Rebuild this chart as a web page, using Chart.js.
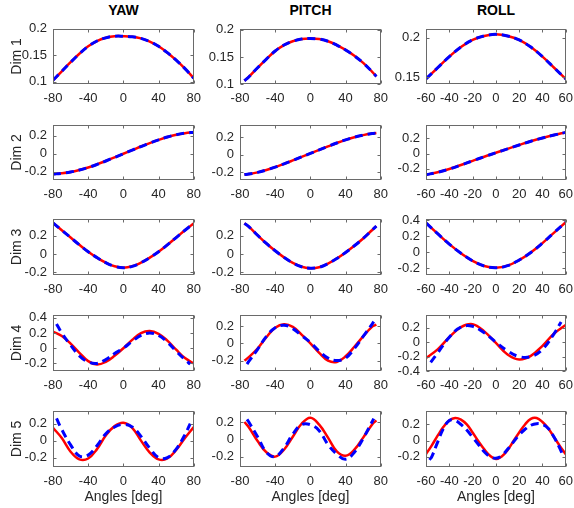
<!DOCTYPE html>
<html><head><meta charset="utf-8">
<script src="https://cdn.jsdelivr.net/npm/chart.js@4"></script>
<style>
html,body{margin:0;padding:0;background:#fff;overflow:hidden;}
#wrap{position:relative;width:574px;height:508px;}
canvas{position:absolute;}
.ttl{position:absolute;top:3px;font:bold 14px "Liberation Sans",Arial,sans-serif;line-height:15px;color:#000;transform:translateX(-50%);white-space:nowrap;}
</style></head><body>
<div id="wrap"></div>
<script>
// ---------- labels ----------
const colNames = ['YAW', 'PITCH', 'ROLL'];
const dimNames = ['Dim 1', 'Dim 2', 'Dim 3', 'Dim 4', 'Dim 5'];
const xLabel = 'Angles [deg]';

// ---------- x sample angles ----------
const xYaw = [-80,-70,-60,-50,-40,-30,-20,-10,0,10,20,30,40,50,60,70,80];
const xYawBlue = [-76,-70,-60,-50,-40,-30,-20,-10,0,10,20,30,40,50,60,70,76];
const xPitch = [-75,-70,-60,-50,-40,-30,-20,-10,0,10,20,30,40,50,60,70,75];
const xPitchBlue = [-72,-70,-60,-50,-40,-30,-20,-10,0,10,20,30,40,50,60,70,72];
const xRoll = [-60,-50,-40,-30,-20,-10,0,10,20,30,40,50,60];
const xRollBlue4 = [-56,-50,-40,-30,-20,-10,0,10,20,30,40,50,56];
const xRoll5 = [-60,-55,-50,-45,-40,-35,-30,-25,-20,-15,-10,-5,0,5,10,15,20,25,30,35,40,45,50,55,60];
const xRollBlue5 = [-57,-55,-50,-45,-40,-35,-30,-25,-20,-15,-10,-5,0,5,10,15,20,25,30,35,40,45,50,55,57];

// ---------- tick labels ----------
const xTicksYP = [-80,-40,0,40,80];
const xTicksRoll = [-60,-40,-20,0,20,40,60];
const yTicks1YP = [0.1,0.15,0.2];
const yTicks1R = [0.15,0.2];
const yTicksStd = [-0.2,0,0.2];
const yTicks3R = [-0.2,0,0.2,0.4];
const yTicks4Y = [-0.2,0,0.2,0.4];
const yTicks4R = [-0.4,-0.2,0,0.2];

// ---------- y ranges ----------
const yLimYaw = [[0.096,0.2],[-0.29,0.32],[-0.23,0.385],[-0.3,0.44],[-0.31,0.35]];
const yLimPitch = [[0.1,0.202],[-0.29,0.34],[-0.23,0.385],[-0.32,0.33],[-0.32,0.33]];
const yLimRoll = [[0.1416,0.211],[-0.35,0.38],[-0.284,0.415],[-0.4,0.38],[-0.33,0.37]];

// ---------- series values (red = solid, blue = dashed) ----------
const yawDim1Red  = [0.103,0.12,0.137,0.153,0.167,0.177,0.183,0.186,0.186,0.185,0.182,0.176,0.167,0.155,0.141,0.125,0.107];
const yawDim1Blue = [0.103,0.12,0.137,0.153,0.167,0.177,0.183,0.186,0.186,0.185,0.182,0.176,0.167,0.155,0.141,0.125,0.107];
const pitchDim1Red  = [0.106,0.113,0.13,0.146,0.161,0.172,0.179,0.183,0.184,0.183,0.179,0.172,0.163,0.152,0.139,0.123,0.114];
const pitchDim1Blue = [0.106,0.113,0.13,0.146,0.161,0.172,0.179,0.183,0.184,0.183,0.179,0.172,0.163,0.152,0.139,0.123,0.114];
const rollDim1Red  = [0.148,0.162,0.176,0.188,0.197,0.202,0.204,0.202,0.197,0.188,0.176,0.162,0.148];
const rollDim1Blue = [0.148,0.162,0.176,0.188,0.197,0.202,0.204,0.202,0.197,0.188,0.176,0.162,0.148];

const yawDim2Red  = [-0.225,-0.216,-0.202,-0.18,-0.152,-0.118,-0.08,-0.04,0.0,0.04,0.08,0.118,0.153,0.185,0.21,0.227,0.237];
const yawDim2Blue = [-0.225,-0.216,-0.202,-0.18,-0.152,-0.118,-0.08,-0.04,0.0,0.04,0.08,0.118,0.153,0.185,0.21,0.227,0.237];
const pitchDim2Red  = [-0.228,-0.222,-0.203,-0.176,-0.143,-0.106,-0.067,-0.027,0.013,0.053,0.093,0.132,0.168,0.198,0.222,0.24,0.246];
const pitchDim2Blue = [-0.228,-0.222,-0.203,-0.176,-0.143,-0.106,-0.067,-0.027,0.013,0.053,0.093,0.132,0.168,0.198,0.222,0.24,0.246];
const rollDim2Red  = [-0.28,-0.248,-0.205,-0.152,-0.097,-0.042,0.01,0.062,0.113,0.162,0.206,0.245,0.28];
const rollDim2Blue = [-0.28,-0.248,-0.205,-0.152,-0.097,-0.042,0.01,0.062,0.113,0.162,0.206,0.245,0.28];

const yawDim3Red  = [0.34,0.26,0.18,0.1,0.025,-0.04,-0.095,-0.135,-0.15,-0.135,-0.095,-0.04,0.025,0.1,0.18,0.26,0.335];
const yawDim3Blue = [0.34,0.26,0.18,0.1,0.025,-0.04,-0.095,-0.135,-0.15,-0.135,-0.095,-0.04,0.025,0.1,0.18,0.26,0.335];
const pitchDim3Red  = [0.335,0.3,0.205,0.115,0.035,-0.037,-0.098,-0.14,-0.155,-0.145,-0.105,-0.05,0.017,0.09,0.17,0.26,0.305];
const pitchDim3Blue = [0.335,0.3,0.205,0.115,0.035,-0.037,-0.098,-0.14,-0.155,-0.145,-0.105,-0.05,0.017,0.09,0.17,0.26,0.305];
const rollDim3Red  = [0.364,0.23,0.1,-0.013,-0.108,-0.172,-0.193,-0.168,-0.098,-0.004,0.113,0.243,0.372];
const rollDim3Blue = [0.364,0.23,0.1,-0.013,-0.108,-0.172,-0.193,-0.168,-0.098,-0.004,0.113,0.243,0.372];

const yawDim4Red  = [0.22,0.16,0.06,-0.06,-0.17,-0.215,-0.18,-0.1,0.0,0.11,0.2,0.228,0.19,0.1,-0.02,-0.13,-0.2];
const yawDim4Blue = [0.32,0.2,0.04,-0.1,-0.18,-0.2,-0.15,-0.07,0.0,0.09,0.17,0.2,0.17,0.08,-0.04,-0.15,-0.21];
const pitchDim4Red  = [-0.2,-0.16,-0.06,0.07,0.18,0.22,0.19,0.1,0.0,-0.11,-0.2,-0.215,-0.15,-0.04,0.08,0.19,0.215];
const pitchDim4Blue = [-0.24,-0.21,-0.07,0.08,0.18,0.21,0.17,0.09,0.01,-0.09,-0.17,-0.2,-0.17,-0.06,0.08,0.22,0.25];
const rollDim4Red  = [-0.22,-0.1,0.07,0.21,0.25,0.15,-0.01,-0.17,-0.24,-0.19,-0.05,0.12,0.24];
const rollDim4Blue = [-0.28,-0.15,0.07,0.21,0.22,0.13,0.0,-0.12,-0.2,-0.2,-0.1,0.12,0.28];

const yawDim5Red  = [0.15,0.03,-0.13,-0.22,-0.21,-0.1,0.06,0.17,0.21,0.15,0.0,-0.14,-0.22,-0.21,-0.11,0.03,0.16];
const yawDim5Blue = [0.26,0.13,-0.05,-0.18,-0.17,-0.06,0.08,0.16,0.19,0.16,0.05,-0.09,-0.2,-0.2,-0.1,0.07,0.2];
const pitchDim5Red  = [0.2,0.14,-0.02,-0.15,-0.2,-0.12,0.03,0.18,0.25,0.17,0.02,-0.14,-0.19,-0.12,0.02,0.17,0.22];
const pitchDim5Blue = [0.23,0.2,0.03,-0.15,-0.2,-0.1,0.06,0.17,0.17,0.1,-0.06,-0.17,-0.23,-0.15,0.01,0.2,0.24];
const rollDim5Red  = [-0.17,-0.06,0.06,0.17,0.25,0.28,0.26,0.2,0.1,-0.01,-0.11,-0.19,-0.23,-0.2,-0.12,-0.01,0.1,0.2,0.27,0.28,0.23,0.15,0.04,-0.07,-0.17];
const rollDim5Blue = [-0.24,-0.2,-0.02,0.15,0.25,0.25,0.2,0.13,0.04,-0.05,-0.14,-0.2,-0.22,-0.19,-0.11,-0.02,0.07,0.14,0.19,0.21,0.2,0.15,0.04,-0.1,-0.17];

// ---------- layout ----------
const colLeft = [53, 240, 426], colRight = [194, 381, 566];
const rowTop = [21, 117, 211, 307, 403], rowBottom = [84, 180, 275, 371, 467];

const FONT = '"Liberation Sans", Arial, Helvetica, sans-serif';
const TXT = '#262626';

const panels = [
  [ {xr:xYaw,yr:yawDim1Red,xb:xYaw,yb:yawDim1Blue,lim:yLimYaw[0],yt:yTicks1YP,xt:xTicksYP,xmin:-80,xmax:80},
    {xr:xPitch,yr:pitchDim1Red,xb:xPitch,yb:pitchDim1Blue,lim:yLimPitch[0],yt:yTicks1YP,xt:xTicksYP,xmin:-80,xmax:80},
    {xr:xRoll,yr:rollDim1Red,xb:xRoll,yb:rollDim1Blue,lim:yLimRoll[0],yt:yTicks1R,xt:xTicksRoll,xmin:-60,xmax:60} ],
  [ {xr:xYaw,yr:yawDim2Red,xb:xYaw,yb:yawDim2Blue,lim:yLimYaw[1],yt:yTicksStd,xt:xTicksYP,xmin:-80,xmax:80},
    {xr:xPitch,yr:pitchDim2Red,xb:xPitch,yb:pitchDim2Blue,lim:yLimPitch[1],yt:yTicksStd,xt:xTicksYP,xmin:-80,xmax:80},
    {xr:xRoll,yr:rollDim2Red,xb:xRoll,yb:rollDim2Blue,lim:yLimRoll[1],yt:yTicksStd,xt:xTicksRoll,xmin:-60,xmax:60} ],
  [ {xr:xYaw,yr:yawDim3Red,xb:xYaw,yb:yawDim3Blue,lim:yLimYaw[2],yt:yTicksStd,xt:xTicksYP,xmin:-80,xmax:80},
    {xr:xPitch,yr:pitchDim3Red,xb:xPitch,yb:pitchDim3Blue,lim:yLimPitch[2],yt:yTicksStd,xt:xTicksYP,xmin:-80,xmax:80},
    {xr:xRoll,yr:rollDim3Red,xb:xRoll,yb:rollDim3Blue,lim:yLimRoll[2],yt:yTicks3R,xt:xTicksRoll,xmin:-60,xmax:60} ],
  [ {xr:xYaw,yr:yawDim4Red,xb:xYawBlue,yb:yawDim4Blue,lim:yLimYaw[3],yt:yTicks4Y,xt:xTicksYP,xmin:-80,xmax:80},
    {xr:xPitch,yr:pitchDim4Red,xb:xPitchBlue,yb:pitchDim4Blue,lim:yLimPitch[3],yt:yTicksStd,xt:xTicksYP,xmin:-80,xmax:80},
    {xr:xRoll,yr:rollDim4Red,xb:xRollBlue4,yb:rollDim4Blue,lim:yLimRoll[3],yt:yTicks4R,xt:xTicksRoll,xmin:-60,xmax:60} ],
  [ {xr:xYaw,yr:yawDim5Red,xb:xYawBlue,yb:yawDim5Blue,lim:yLimYaw[4],yt:yTicksStd,xt:xTicksYP,xmin:-80,xmax:80},
    {xr:xPitch,yr:pitchDim5Red,xb:xPitchBlue,yb:pitchDim5Blue,lim:yLimPitch[4],yt:yTicksStd,xt:xTicksYP,xmin:-80,xmax:80},
    {xr:xRoll5,yr:rollDim5Red,xb:xRollBlue5,yb:rollDim5Blue,lim:yLimRoll[4],yt:yTicksStd,xt:xTicksRoll,xmin:-60,xmax:60} ]
];

// box + inward tick marks, like the reference axes
const boxPlugin = {
  id: 'boxTicks',
  afterDatasetsDraw(chart) {
    const {ctx, chartArea: a, scales: {x, y}} = chart;
    const l = Math.round(a.left) + 0.5, r = Math.round(a.right) - 0.5;
    const t = Math.round(a.top) + 0.5, b = Math.round(a.bottom) - 0.5;
    ctx.save();
    ctx.strokeStyle = '#6a6a6a';
    ctx.lineWidth = 1;
    ctx.beginPath();
    const TL = 3;
    x.ticks.forEach((tk, i) => {
      const px = Math.round(x.getPixelForTick(i)) + 0.5;
      ctx.moveTo(px, b); ctx.lineTo(px, b - TL);
      ctx.moveTo(px, t); ctx.lineTo(px, t + TL);
    });
    y.ticks.forEach((tk, i) => {
      const py = Math.round(y.getPixelForTick(i)) + 0.5;
      ctx.moveTo(l, py); ctx.lineTo(l + TL, py);
      ctx.moveTo(r, py); ctx.lineTo(r - TL, py);
    });
    ctx.stroke();
    ctx.strokeRect(l, t, r - l, b - t);
    ctx.restore();
  }
};

const fmt = v => String(parseFloat(Number(v).toFixed(3)));
const wrap = document.getElementById('wrap');

colNames.forEach((n, c) => {
  const d = document.createElement('div');
  d.className = 'ttl';
  d.textContent = n;
  d.style.left = ((colLeft[c] + colRight[c]) / 2) + 'px';
  wrap.appendChild(d);
});

panels.forEach((rowPanels, r) => rowPanels.forEach((p, c) => {
  const L = colLeft[c], R = colRight[c], T = rowTop[r], B = rowBottom[r];
  const yW = c === 0 ? L : 46;
  const xH = r === 4 ? 40 : 24;
  const padTop = 6, padRight = 14;
  const cl = L - yW, ct = T - padTop;
  const w = R - cl + padRight, h = B - ct + xH;
  const cv = document.createElement('canvas');
  cv.width = w; cv.height = h;
  cv.style.left = cl + 'px'; cv.style.top = ct + 'px';
  cv.style.width = w + 'px'; cv.style.height = h + 'px';
  wrap.appendChild(cv);
  new Chart(cv, {
    type: 'line',
    data: { datasets: [
      { data: p.xb.map((xv, i) => ({x: xv, y: p.yb[i]})), borderColor: '#0000ff', borderWidth: 3,
        borderDash: [8, 5], pointRadius: 0, tension: 0.4, fill: false },
      { data: p.xr.map((xv, i) => ({x: xv, y: p.yr[i]})), borderColor: '#ff0000', borderWidth: 2.5,
        pointRadius: 0, tension: 0.4, fill: false }
    ]},
    options: {
      responsive: false, animation: false, devicePixelRatio: 1,
      layout: { padding: { top: padTop, right: padRight, left: 0, bottom: 0 } },
      plugins: { legend: { display: false }, tooltip: { enabled: false }, title: { display: false } },
      scales: {
        x: {
          type: 'linear', min: p.xmin, max: p.xmax,
          afterFit(s) { s.height = xH; },
          afterBuildTicks(s) { s.ticks = p.xt.map(v => ({value: v})); },
          grid: { display: false, drawTicks: false }, border: { display: false },
          ticks: { font: { family: FONT, size: 13 }, color: TXT, padding: 7, maxRotation: 0, autoSkip: false,
                   callback: v => fmt(v) },
          title: { display: r === 4, text: xLabel, font: { family: FONT, size: 14 }, color: TXT,
                   padding: { top: 0, bottom: 1 } }
        },
        y: {
          type: 'linear', min: p.lim[0], max: p.lim[1],
          afterFit(s) { s.width = yW; },
          afterBuildTicks(s) { s.ticks = p.yt.map(v => ({value: v})); },
          grid: { display: false, drawTicks: false }, border: { display: false },
          ticks: { font: { family: FONT, size: 13 }, color: TXT, padding: 6, autoSkip: false,
                   callback: v => fmt(v) },
          title: { display: c === 0, text: dimNames[r], font: { family: FONT, size: 14 }, color: TXT,
                   padding: { top: 9, bottom: 0 } }
        }
      }
    },
    plugins: [boxPlugin]
  });
}));
</script>
</body></html>
